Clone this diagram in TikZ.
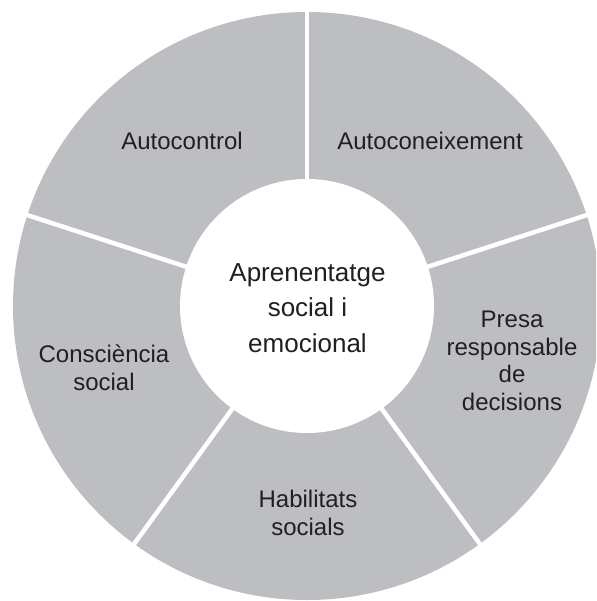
\documentclass[tikz,border=0pt]{standalone}
\usepackage{fontspec}
\setmainfont{Liberation Sans}
\definecolor{segfill}{HTML}{BDBEC1}
\definecolor{txt}{HTML}{231F20}
\begin{document}
\begin{tikzpicture}[x=1pt,y=-1pt,
  seglabel/.style={text=txt, align=center, inner sep=0pt, font=\fontsize{24}{27.5}\selectfont},
  centerlabel/.style={text=txt, align=center, inner sep=0pt, font=\fontsize{26}{35.5}\selectfont},
  sepline/.style={draw=white, line width=4.5pt}]
\useasboundingbox (0,0) rectangle (596,601);
\clip (0,0) rectangle (596,601);
\coordinate (c) at (307,306);
\fill[segfill] (c) circle[radius=294];
\foreach \a in {90,162,234,306,18}{
  \draw[sepline] (c) -- ++(-\a:300);
}
\fill[white] (c) circle[radius=127];
\node[centerlabel] (center) at (307.5,308) {Aprenentatge\\social i\\emocional};
\node[seglabel] (autocontrol) at (182,141) {Autocontrol};
\node[seglabel] (autoconeix) at (430,141) {Autoconeixement};
\node[seglabel] (presa) at (512,361) {Presa\\responsable\\de\\decisions};
\node[seglabel] (consciencia) at (104,368) {Consciència\\social};
\node[seglabel] (habilitats) at (308,513) {Habilitats\\socials};
\end{tikzpicture}
\end{document}
